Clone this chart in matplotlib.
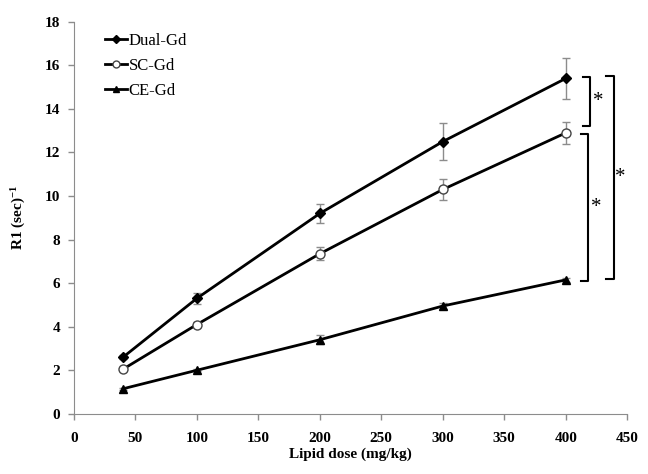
import matplotlib
matplotlib.use("Agg")
import matplotlib.pyplot as plt
from matplotlib.lines import Line2D

plt.rcParams["font.family"] = ["Liberation Serif", "DejaVu Serif"]
plt.rcParams["mathtext.fontset"] = "custom"
plt.rcParams["mathtext.bf"] = "Liberation Serif:bold"
plt.rcParams["mathtext.rm"] = "Liberation Serif"
plt.rcParams["mathtext.default"] = "bf"

dose = [40, 100, 200, 300, 400]
dual = [2.6, 5.3, 9.2, 12.5, 15.4]
dual_err = [0.1, 0.25, 0.45, 0.85, 0.95]
sc = [2.05, 4.1, 7.35, 10.3, 12.9]
sc_err = [0.05, 0.1, 0.3, 0.5, 0.5]
ce = [1.15, 2.0, 3.4, 4.95, 6.15]
ce_err = [0.05, 0.05, 0.2, 0.15, 0.08]

# significance brackets: (x_left, x_right, y_top, y_bottom, star_x)
brackets = [
    (414, 420, 15.45, 13.2, 426),
    (412, 418, 12.85, 6.1, 425),
    (433, 439, 15.5, 6.2, 444),
]

fig = plt.figure(figsize=(6.48, 4.74), dpi=100)
ax = fig.add_axes([0.114, 0.127, 0.854, 0.827])

grey = "#8c8c8c"
ax.errorbar(dose, dual, yerr=dual_err, color="black", ecolor=grey, elinewidth=1,
            capsize=3, lw=2, marker="D", ms=5, mfc="black", mec="black")
ax.errorbar(dose, sc, yerr=sc_err, color="black", ecolor=grey, elinewidth=1,
            capsize=3, lw=2, marker="o", ms=6.5, mfc="white", mec="#444444",
            mew=1)
ax.plot(dose, sc, ls="none", marker="o", ms=3, mfc="white", mec="#555555",
        mew=0.8)
ax.errorbar(dose, ce, yerr=ce_err, color="black", ecolor=grey, elinewidth=1,
            capsize=3, lw=2, marker="^", ms=6, mfc="black", mec="black")

for x0, x1, yt, yb, sx in brackets:
    ax.plot([x0, x1, x1, x0], [yt, yt, yb, yb], color="black", lw=1.5,
            clip_on=False)
    ax.text(sx, (yt + yb) / 2, "*", ha="center", va="center", fontsize=15)

ax.set_xlim(0, 450)
ax.set_ylim(0, 18)
ax.set_xticks(range(0, 451, 50))
ax.set_yticks(range(0, 19, 2))
for lab in ax.get_xticklabels() + ax.get_yticklabels():
    lab.set_fontweight("bold")
    lab.set_fontsize(11)
ax.tick_params(direction="out", length=4, color=grey, width=1)
ax.tick_params(axis="x", pad=9)
ax.tick_params(axis="y", pad=6)
ax.spines["top"].set_visible(False)
ax.spines["right"].set_visible(False)
ax.spines["left"].set_color(grey)
ax.spines["bottom"].set_color(grey)

ax.set_xlabel("Lipid dose (mg/kg)", fontsize=11, fontweight="bold", labelpad=2)
ax.set_ylabel("R1 (sec)$^{-1}$", fontsize=11, fontweight="bold", labelpad=12)

handles = [
    Line2D([], [], color="black", lw=2, marker="D", ms=4, mfc="black"),
    Line2D([], [], color="black", lw=2, marker="o", ms=5, mfc="white",
           mec="#444444"),
    Line2D([], [], color="black", lw=2, marker="^", ms=5, mfc="black"),
]
ax.legend(handles, ["Dual-Gd", "SC-Gd", "CE-Gd"], loc="upper left",
          frameon=False, fontsize=12, handlelength=1.3, handletextpad=0.1,
          labelspacing=0.55, bbox_to_anchor=(0.03, 1.01))

fig.savefig("out.png", dpi=100, facecolor="white")
